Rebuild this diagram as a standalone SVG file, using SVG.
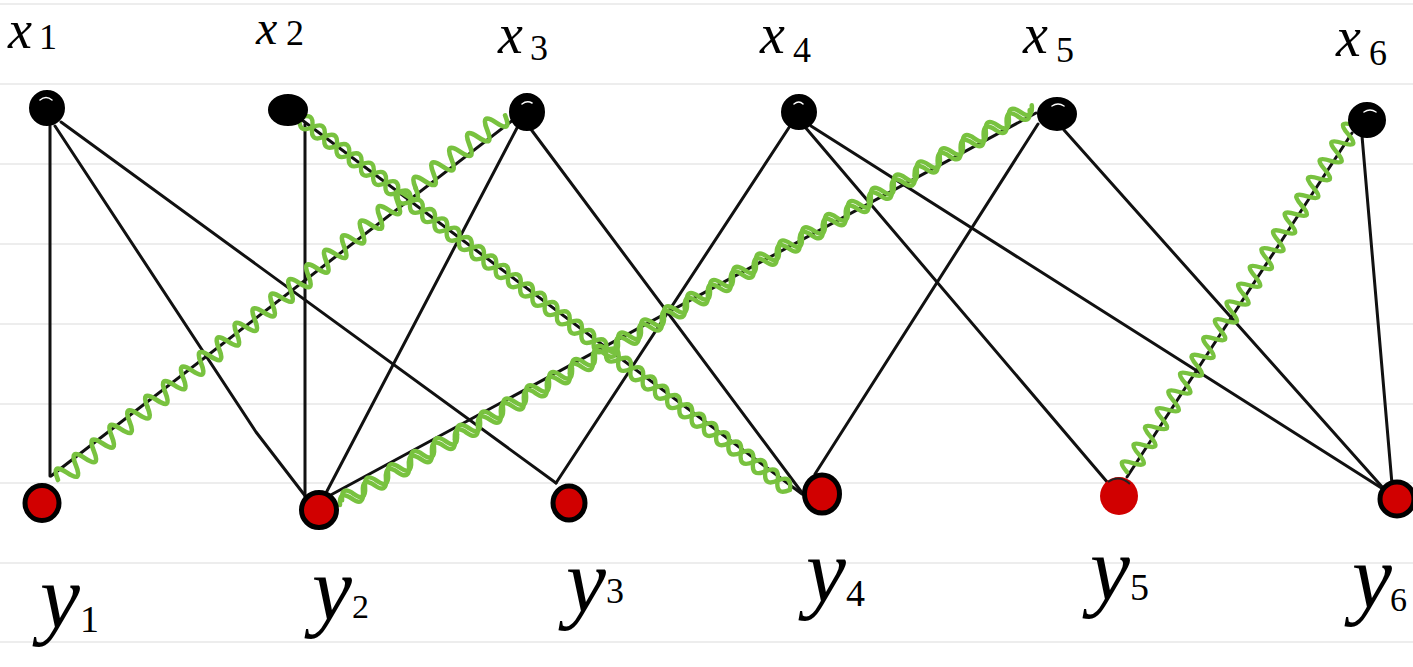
<svg xmlns="http://www.w3.org/2000/svg" width="1413" height="667" viewBox="0 0 1413 667">
<style>
.rule{stroke:#ededed;stroke-width:2}
.edge{fill:none;stroke:#111;stroke-width:3;stroke-linecap:round;stroke-linejoin:round}
.wave{fill:none;stroke:#78c23f;stroke-width:4.5;stroke-linecap:round;stroke-linejoin:round}
.top{fill:#000;stroke:#000;stroke-width:2}
.hl{fill:none;stroke:#fff;stroke-width:1.5;stroke-linecap:round}
.bot{fill:#d10000;stroke:#000;stroke-width:5}
.bot2{fill:#d10000;stroke:none}
.lbl{font-family:"Liberation Serif","DejaVu Serif",serif;font-style:italic;fill:#000}
.dg{font-family:"Liberation Serif","DejaVu Serif",serif;fill:#000}
</style>
<defs>
<path id="wA" d="M0 0q5.5 -19 11 0t11 0t11 0t11 0t11 0t11 0t11 0t11 0t11 0t11 0"/>
<path id="wB" d="M0 0q8 -14 16 0t16 0t16 0t16 0t16 0t16 0t16 0t16 0t16 0t16 0"/>
<path id="wB2" d="M0 0q8 14 16 0t16 0t16 0t16 0t16 0t16 0t16 0t16 0t16 0t16 0"/>
<path id="wC" d="M0 0q6.5 -14 13 0t13 0t13 0t13 0t13 0t13 0t13 0t13 0t13 0t13 0"/>
</defs>
<rect width="1413" height="667" fill="#fff"/>
<g id="ruling">
<line class="rule" x1="0" y1="4" x2="1413" y2="4"/>
<line class="rule" x1="0" y1="84" x2="1413" y2="84"/>
<line class="rule" x1="0" y1="164" x2="1413" y2="164"/>
<line class="rule" x1="0" y1="244" x2="1413" y2="244"/>
<line class="rule" x1="0" y1="324" x2="1413" y2="324"/>
<line class="rule" x1="0" y1="404" x2="1413" y2="404"/>
<line class="rule" x1="0" y1="483" x2="1413" y2="483"/>
<line class="rule" x1="0" y1="563" x2="1413" y2="563"/>
<line class="rule" x1="0" y1="642" x2="1413" y2="642"/>
</g>
<g id="connectors">
<path class="edge" d="M50 126L50 476"/>
<path class="edge" d="M51 476L513 120"/>
<path class="edge" d="M55 126L256 432L306 497"/>
<path class="edge" d="M61 122L556 483"/>
<path class="edge" d="M305 124L305 497"/>
<path class="edge" d="M302 120L802 494"/>
<path class="edge" d="M518 126L326 493"/>
<path class="edge" d="M530 128L803 494"/>
<path class="edge" d="M790 126L556 483"/>
<path class="edge" d="M805 127L1108 483"/>
<path class="edge" d="M811 126L1383 489"/>
<path class="edge" d="M1036 113L327 497"/>
<path class="edge" d="M1038 124L815 474"/>
<path class="edge" d="M1064 130L1384 489"/>
<path class="edge" d="M1352 133L1127 477"/>
<path class="edge" d="M1362 136L1392 484"/>
<g class="wave" transform="translate(58,480) rotate(-39.2) scale(1.049,1)">
<use href="#wA" x="0"/><use href="#wA" x="110"/><use href="#wA" x="220"/><use href="#wA" x="330"/><use href="#wA" x="440"/>
</g>
<g class="wave" transform="translate(300,118) rotate(37.2) scale(0.961,1)">
<use href="#wB" x="0"/><use href="#wB" x="160"/><use href="#wB" x="320"/><use href="#wB" x="480"/>
<use href="#wB2" x="0"/><use href="#wB2" x="160"/><use href="#wB2" x="320"/><use href="#wB2" x="480"/>
</g>
<g class="wave" transform="translate(340,505) rotate(-29.8) scale(1.019,1)">
<use href="#wC" x="0"/><use href="#wC" x="130"/><use href="#wC" x="260"/><use href="#wC" x="390"/><use href="#wC" x="520"/><use href="#wC" x="650"/>
<g transform="translate(4,-3)"><use href="#wC" x="0"/><use href="#wC" x="130"/><use href="#wC" x="260"/><use href="#wC" x="390"/><use href="#wC" x="520"/><use href="#wC" x="650"/></g>
</g>
<g class="wave" transform="translate(1127,472) rotate(-56.8) scale(0.966,1)">
<use href="#wA" x="0"/><use href="#wA" x="110"/><use href="#wA" x="220"/><use href="#wA" x="330"/>
</g>
</g>
<g id="x1">
<ellipse class="top" cx="47" cy="108" rx="17" ry="17"/><path class="hl" d="M40 100q6 -5 12 0"/>
<text class="lbl" x="8" y="48" font-size="54">x</text><text class="dg" x="39" y="49" font-size="36">1</text>
</g>
<g id="x2">
<ellipse class="top" cx="288" cy="110" rx="19" ry="15"/>
<text class="lbl" x="256" y="44" font-size="48">x</text><text class="dg" x="286" y="45" font-size="36">2</text>
</g>
<g id="x3">
<ellipse class="top" cx="527" cy="112" rx="17" ry="18"/><path class="hl" d="M522 104q5 -4 10 -1"/>
<text class="lbl" x="498" y="53" font-size="56">x</text><text class="dg" x="530" y="60" font-size="36">3</text>
</g>
<g id="x4">
<ellipse class="top" cx="799" cy="112" rx="17" ry="17"/><path class="hl" d="M794 104q5 -4 9 0"/>
<text class="lbl" x="760" y="53" font-size="56">x</text><text class="dg" x="793" y="62" font-size="36">4</text>
</g>
<g id="x5">
<ellipse class="top" cx="1057" cy="114" rx="19" ry="16"/><path class="hl" d="M1052 106q6 -4 12 0"/>
<text class="lbl" x="1023" y="53" font-size="56">x</text><text class="dg" x="1056" y="62" font-size="36">5</text>
</g>
<g id="x6">
<ellipse class="top" cx="1367" cy="120" rx="18" ry="17"/><path class="hl" d="M1364 112q6 -4 12 0"/>
<text class="lbl" x="1336" y="56" font-size="56">x</text><text class="dg" x="1369" y="65" font-size="36">6</text>
</g>
<g id="y1">
<ellipse class="bot" cx="42" cy="503" rx="17" ry="17.5"/>
<text class="lbl" x="40" y="628" font-size="90">y</text><text class="dg" x="80" y="632" font-size="38">1</text>
</g>
<g id="y2">
<ellipse class="bot" cx="319" cy="510" rx="17.5" ry="17.5"/>
<text class="lbl" x="312" y="620" font-size="90">y</text><text class="dg" x="352" y="618" font-size="34">2</text>
</g>
<g id="y3">
<ellipse class="bot" cx="569" cy="503" rx="16" ry="17"/>
<text class="lbl" x="566" y="612" font-size="90">y</text><text class="dg" x="606" y="603" font-size="36">3</text>
</g>
<g id="y4">
<ellipse class="bot" cx="822" cy="494" rx="17.5" ry="19"/>
<text class="lbl" x="806" y="602" font-size="90">y</text><text class="dg" x="846" y="606" font-size="38">4</text>
</g>
<g id="y5">
<ellipse class="bot2" cx="1119" cy="496" rx="19" ry="19"/><path d="M1108 482q11 -8 22 2" fill="none" stroke="#222" stroke-width="2"/>
<text class="lbl" x="1090" y="600" font-size="90">y</text><text class="dg" x="1130" y="600" font-size="38">5</text>
</g>
<g id="y6">
<ellipse class="bot" cx="1397" cy="499" rx="17" ry="17"/>
<text class="lbl" x="1352" y="608" font-size="90">y</text><text class="dg" x="1390" y="611" font-size="34">6</text>
</g>
</svg>
